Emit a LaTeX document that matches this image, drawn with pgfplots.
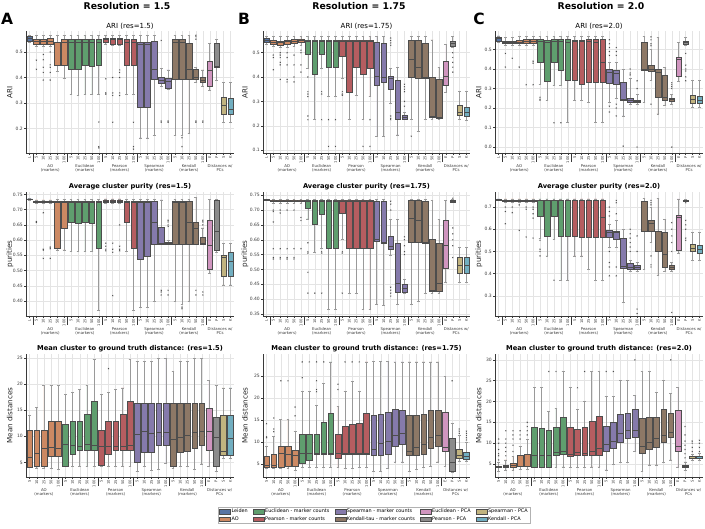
\documentclass[border=0pt]{standalone}
\usepackage{fontspec}
\setmainfont{DejaVu Sans}
\usepackage{pgfplots}
\pgfplotsset{compat=1.18}
\usepgfplotslibrary{statistics}

\definecolor{cL}{HTML}{5875A4}
\definecolor{cAO}{HTML}{CC8963}
\definecolor{cE}{HTML}{5F9E6E}
\definecolor{cP}{HTML}{B55D60}
\definecolor{cS}{HTML}{857AAB}
\definecolor{cK}{HTML}{8D7866}
\definecolor{cEp}{HTML}{D095BF}
\definecolor{cPp}{HTML}{8C8C8C}
\definecolor{cSp}{HTML}{C1B37F}
\definecolor{cKp}{HTML}{71AEC0}
\definecolor{edgec}{HTML}{4D4D4D}
\definecolor{whc}{HTML}{9A9A9A}
\definecolor{axc}{HTML}{3A3A3A}
\definecolor{gridc}{HTML}{E4E4E4}

\pgfplotsset{
 /pgf/number format/assume math mode=true,
 bxs/.style={forget plot, draw=edgec, line width=0.35pt, mark=x, mark size=0.8pt,
   mark options={draw=edgec, line width=0.3pt, solid},
   boxplot/draw direction=y,
   boxplot/box extend=0.8, boxplot/whisker extend=0.4,
   boxplot/every whisker/.style={draw=whc, line width=0.7pt},
   boxplot/every median/.style={draw=edgec, line width=0.6pt}},
 panel/.style={scale only axis, anchor=south west, axis x line*=bottom, axis y line*=left,
   axis line style={line width=0.6pt, draw=axc, -}, tick align=outside, xtick pos=left, ytick pos=left,
   major tick length=2pt, tick style={line width=0.4pt, draw=axc},
   grid=major, major grid style={line width=0.4pt, draw=gridc},
   ticklabel style={font=\fontsize{4.5}{5}\selectfont, text=axc},
   xticklabel style={rotate=90, anchor=east, font=\fontsize{3.7}{4.2}\selectfont, inner sep=1pt},
   yticklabel style={inner sep=1pt},
   every axis title/.style={at={(0.5,1)}, anchor=south, inner sep=1pt, yshift=0.5pt, font=\fontsize{7}{8}\selectfont},
   every axis y label/.style={at={(axis description cs:-0.078,0.5)}, rotate=90, anchor=center, font=\fontsize{7.2}{8}\selectfont, text=black!85},
   clip=false, enlargelimits=false},
 r12/.style={panel, xmin=-0.5, xmax=29.5, xtick={0,...,29},
   xticklabels={L,5,10,25,50,100,5,10,25,50,100,5,10,25,50,100,5,10,25,50,100,5,10,25,50,100,E,P,S,K}},
 r3/.style={panel, xmin=-0.5, xmax=28.5, xtick={0,...,28},
   xticklabels={5,10,25,50,100,5,10,25,50,100,5,10,25,50,100,5,10,25,50,100,5,10,25,50,100,E,P,S,K}},
 f1/.style={yticklabel style={/pgf/number format/fixed, /pgf/number format/fixed zerofill, /pgf/number format/precision=1}},
 f2/.style={yticklabel style={/pgf/number format/fixed, /pgf/number format/fixed zerofill, /pgf/number format/precision=2}},
 bt/.style={every axis title/.append style={font=\fontsize{6.7}{8}\selectfont\bfseries}},
 lgi/.style={legend image code/.code={\draw[draw=edgec,line width=0.3pt] (0pt,-2.2pt) rectangle (11pt,2.2pt);}, fill=#1},
}

\newcommand\bx[7]{\addplot[bxs,fill=#2,boxplot prepared={draw position=#1,lower whisker=#3,lower quartile=#4,median=#5,upper quartile=#6,upper whisker=#7}] coordinates {};}
\newcommand\bxo[8]{\addplot[bxs,fill=#2,boxplot prepared={draw position=#1,lower whisker=#3,lower quartile=#4,median=#5,upper quartile=#6,upper whisker=#7}] table[row sep=\\,y index=0] {d\\#8\\};}
\newcommand\glab[2]{\node[font=\fontsize{3.9}{4.6}\selectfont, align=center, anchor=north, inner sep=0pt, text=axc, yshift=-11pt] at ({axis cs:#1,0}|-{rel axis cs:0,0}) {#2};}
\newcommand\sep[1]{\draw[axc,line width=0.4pt] ({axis cs:#1,0}|-{rel axis cs:0,0}) -- ++(0pt,-9.5pt);}
\newcommand\grpsA{\sep{0.5}\sep{5.5}\sep{10.5}\sep{15.5}\sep{20.5}\sep{25.5}%
 \glab{3}{AO\\(markers)}\glab{8}{Euclidean\\(markers)}\glab{13}{Pearson\\(markers)}\glab{18}{Spearman\\(markers)}\glab{23}{Kendall\\(markers)}\glab{27.5}{Distances w/\\PCs}}
\newcommand\grpsB{\sep{4.5}\sep{9.5}\sep{14.5}\sep{19.5}\sep{24.5}%
 \glab{2}{AO\\(markers)}\glab{7}{Euclidean\\(markers)}\glab{12}{Pearson\\(markers)}\glab{17}{Spearman\\(markers)}\glab{22}{Kendall\\(markers)}\glab{26.5}{Distances w/\\PCs}}

\begin{document}
\begin{tikzpicture}
\path[use as bounding box] (0pt,0pt) rectangle (705pt,529pt);
\node[font=\fontsize{9.3}{11}\selectfont\bfseries] at (127pt,522.5pt) {Resolution = 1.5};
\node[font=\fontsize{9.3}{11}\selectfont\bfseries] at (359pt,522.5pt) {Resolution = 1.75};
\node[font=\fontsize{9.3}{11}\selectfont\bfseries] at (601pt,522.5pt) {Resolution = 2.0};
\node[font=\fontsize{15.5}{16}\selectfont\bfseries] at (7pt,510pt) {A};
\node[font=\fontsize{15.5}{16}\selectfont\bfseries] at (244pt,510pt) {B};
\node[font=\fontsize{15.5}{16}\selectfont\bfseries] at (479pt,510pt) {C};

% ---------------- A1
\begin{axis}[r12, at={(26pt,376pt)}, width=208pt, height=122pt, ymin=0.105, ymax=0.582,
  ytick={0.2,0.3,0.4,0.5}, f1, ylabel={ARI}, title={ARI (res=1.5)}]
\bx{0}{cL}{0.537}{0.542}{0.552}{0.562}{0.565}
\bxo{1}{cAO}{0.523}{0.532}{0.540}{0.549}{0.565}{0.468\\0.432}
\bxo{2}{cAO}{0.52}{0.532}{0.540}{0.549}{0.565}{0.49\\0.47\\0.44\\0.42\\0.39}
\bxo{3}{cAO}{0.52}{0.532}{0.542}{0.552}{0.565}{0.50\\0.45\\0.44\\0.42\\0.39}
\bx{4}{cAO}{0.423}{0.447}{0.536}{0.540}{0.565}
\bx{5}{cAO}{0.396}{0.447}{0.538}{0.549}{0.565}
\bx{6}{cE}{0.333}{0.432}{0.536}{0.549}{0.565}
\bx{7}{cE}{0.33}{0.432}{0.536}{0.549}{0.565}
\bx{8}{cE}{0.333}{0.447}{0.536}{0.549}{0.565}
\bx{9}{cE}{0.333}{0.443}{0.536}{0.549}{0.565}
\bxo{10}{cE}{0.333}{0.447}{0.538}{0.549}{0.565}{0.226\\0.13\\0.125}
\bxo{11}{cP}{0.53}{0.538}{0.548}{0.552}{0.565}{0.395\\0.34\\0.335}
\bxo{12}{cP}{0.525}{0.532}{0.548}{0.552}{0.565}{0.40\\0.34\\0.33\\0.225}
\bxo{13}{cP}{0.525}{0.532}{0.548}{0.552}{0.565}{0.43\\0.42\\0.40\\0.34\\0.33}
\bx{14}{cP}{0.333}{0.447}{0.536}{0.549}{0.565}
\bxo{15}{cP}{0.333}{0.447}{0.536}{0.549}{0.565}{0.225\\0.13\\0.12}
\bx{16}{cS}{0.164}{0.286}{0.529}{0.538}{0.565}
\bx{17}{cS}{0.164}{0.284}{0.529}{0.538}{0.565}
\bx{18}{cS}{0.175}{0.395}{0.434}{0.544}{0.565}
\bxo{19}{cS}{0.365}{0.377}{0.39}{0.40}{0.435}{0.545\\0.23\\0.225}
\bxo{20}{cS}{0.355}{0.36}{0.385}{0.396}{0.43}{0.23\\0.225}
\bx{21}{cK}{0.175}{0.395}{0.536}{0.549}{0.565}
\bxo{22}{cK}{0.175}{0.395}{0.536}{0.549}{0.565}{0.165\\0.13}
\bx{23}{cK}{0.18}{0.395}{0.434}{0.536}{0.565}
\bxo{24}{cK}{0.38}{0.395}{0.40}{0.434}{0.44}{0.565\\0.56\\0.55\\0.23\\0.225}
\bxo{25}{cK}{0.365}{0.38}{0.39}{0.40}{0.43}{0.23\\0.225}
\bx{26}{cEp}{0.35}{0.366}{0.427}{0.463}{0.535}
\bx{27}{cPp}{0.39}{0.44}{0.443}{0.533}{0.55}
\bx{28}{cSp}{0.225}{0.257}{0.29}{0.323}{0.38}
\bx{29}{cKp}{0.225}{0.257}{0.277}{0.32}{0.38}
\grpsA
\end{axis}

% ---------------- A2
\begin{axis}[r12, bt, at={(26pt,213pt)}, width=208pt, height=124pt, ymin=0.351, ymax=0.758,
  ytick={0.40,0.45,0.50,0.55,0.60,0.65,0.70,0.75}, f2, ylabel={purities}, title={Average cluster purity (res=1.5)}]
\bx{0}{cL}{0.732}{0.733}{0.735}{0.736}{0.737}
\bxo{1}{cAO}{0.722}{0.725}{0.727}{0.729}{0.732}{0.661\\0.658}
\bxo{2}{cAO}{0.722}{0.725}{0.727}{0.729}{0.732}{0.69\\0.57\\0.567\\0.54}
\bxo{3}{cAO}{0.722}{0.725}{0.727}{0.729}{0.732}{0.577\\0.572\\0.54}
\bx{4}{cAO}{0.568}{0.575}{0.724}{0.727}{0.733}
\bx{5}{cAO}{0.568}{0.638}{0.724}{0.727}{0.733}
\bx{6}{cE}{0.562}{0.658}{0.724}{0.727}{0.733}
\bx{7}{cE}{0.562}{0.655}{0.724}{0.727}{0.733}
\bx{8}{cE}{0.562}{0.658}{0.724}{0.727}{0.733}
\bx{9}{cE}{0.562}{0.655}{0.724}{0.727}{0.733}
\bx{10}{cE}{0.37}{0.575}{0.724}{0.727}{0.733}
\bxo{11}{cP}{0.72}{0.725}{0.729}{0.732}{0.735}{0.59\\0.58\\0.57\\0.565}
\bxo{12}{cP}{0.72}{0.725}{0.729}{0.732}{0.735}{0.59\\0.57\\0.56\\0.418}
\bxo{13}{cP}{0.72}{0.725}{0.729}{0.732}{0.735}{0.65\\0.58\\0.57\\0.565}
\bx{14}{cP}{0.562}{0.658}{0.724}{0.727}{0.733}
\bx{15}{cP}{0.37}{0.575}{0.724}{0.727}{0.733}
\bx{16}{cS}{0.38}{0.539}{0.724}{0.727}{0.733}
\bx{17}{cS}{0.38}{0.548}{0.724}{0.727}{0.733}
\bx{18}{cS}{0.398}{0.588}{0.657}{0.727}{0.733}
\bxo{19}{cS}{0.588}{0.588}{0.589}{0.644}{0.732}{0.435\\0.43\\0.42}
\bxo{20}{cS}{0.585}{0.587}{0.59}{0.594}{0.6}{0.665\\0.66\\0.65\\0.645\\0.435\\0.42}
\bx{21}{cK}{0.398}{0.588}{0.724}{0.727}{0.733}
\bxo{22}{cK}{0.39}{0.588}{0.724}{0.727}{0.733}{0.38\\0.375}
\bx{23}{cK}{0.398}{0.588}{0.657}{0.727}{0.733}
\bxo{24}{cK}{0.588}{0.588}{0.638}{0.66}{0.74}{0.435\\0.42}
\bxo{25}{cK}{0.588}{0.588}{0.59}{0.611}{0.64}{0.665\\0.66\\0.65\\0.43\\0.42}
\bx{26}{cEp}{0.49}{0.506}{0.582}{0.665}{0.733}
\bx{27}{cPp}{0.56}{0.568}{0.628}{0.73}{0.733}
\bx{28}{cSp}{0.453}{0.483}{0.544}{0.55}{0.59}
\bx{29}{cKp}{0.453}{0.482}{0.53}{0.562}{0.59}
\grpsA
\end{axis}

% ---------------- A3
\begin{axis}[r3, bt, at={(26pt,52pt)}, width=208pt, height=123pt, ymin=2.2, ymax=25.8,
  ytick={5,10,15,20,25}, ylabel={Mean distances}, title={Mean cluster to ground truth distance: (res=1.5)}]
\bx{0}{cAO}{4.1}{4.16}{5.9}{11.1}{14.0}
\bx{1}{cAO}{3.9}{4.2}{6.7}{11.1}{15.5}
\bx{2}{cAO}{3.9}{4.2}{7.7}{11.1}{19.7}
\bx{3}{cAO}{3.8}{6.2}{7.9}{13.0}{19.7}
\bx{4}{cAO}{3.6}{6.2}{7.8}{13.0}{19.7}
\bx{5}{cE}{4.2}{4.35}{8.5}{12.4}{18.0}
\bx{6}{cE}{4.2}{6.55}{8.2}{13.0}{18.5}
\bx{7}{cE}{4.2}{7.25}{8.0}{13.0}{19.0}
\bx{8}{cE}{4.2}{7.25}{8.4}{14.2}{19.7}
\bx{9}{cE}{4.2}{7.25}{8.2}{16.7}{24.7}
\bx{10}{cP}{4.2}{4.5}{8.0}{11.1}{18.0}
\bxo{11}{cP}{4.2}{6.55}{8.0}{13.0}{18.5}{23.0}
\bx{12}{cP}{4.2}{7.25}{8.0}{13.0}{19.0}
\bx{13}{cP}{4.2}{7.25}{8.0}{14.2}{19.3}
\bx{14}{cP}{4.2}{7.25}{8.2}{16.7}{24.7}
\bx{15}{cS}{3.3}{5.1}{10.4}{16.3}{24.4}
\bx{16}{cS}{4.2}{7.0}{10.9}{16.3}{24.4}
\bx{17}{cS}{3.4}{7.0}{10.6}{16.3}{24.4}
\bx{18}{cS}{3.7}{8.35}{10.8}{16.3}{25.0}
\bx{19}{cS}{4.8}{8.35}{10.8}{16.3}{25.0}
\bx{20}{cK}{3.9}{4.35}{9.5}{16.3}{22.4}
\bx{21}{cK}{4.2}{6.9}{9.8}{16.3}{24.4}
\bx{22}{cK}{4.2}{7.1}{10.2}{16.3}{24.4}
\bx{23}{cK}{3.7}{7.8}{10.7}{16.3}{25.0}
\bx{24}{cK}{4.7}{8.3}{10.9}{16.3}{25.0}
\bx{25}{cEp}{4.2}{7.25}{10.9}{15.5}{20.8}
\bx{26}{cPp}{3.3}{4.2}{9.8}{13.7}{19.7}
\bx{27}{cSp}{5.8}{6.4}{7.1}{14.0}{19.3}
\bx{28}{cKp}{5.8}{6.3}{9.6}{14.0}{19.3}
\grpsB
\end{axis}

% ---------------- B1
\begin{axis}[r12, at={(263pt,376pt)}, width=207pt, height=122pt, ymin=0.088, ymax=0.589,
  ytick={0.1,0.2,0.3,0.4,0.5}, f1, ylabel={ARI}, ylabel style={at={(axis description cs:-0.087,0.5)}}, title={ARI (res=1.75)}]
\bx{0}{cL}{0.535}{0.544}{0.552}{0.561}{0.567}
\bxo{1}{cAO}{0.525}{0.534}{0.544}{0.550}{0.567}{0.49\\0.48\\0.43}
\bxo{2}{cAO}{0.52}{0.531}{0.541}{0.548}{0.567}{0.50\\0.49\\0.48\\0.46\\0.45\\0.39}
\bxo{3}{cAO}{0.52}{0.534}{0.545}{0.552}{0.567}{0.50\\0.48\\0.45\\0.39\\0.38}
\bxo{4}{cAO}{0.525}{0.541}{0.548}{0.555}{0.567}{0.49\\0.45\\0.40\\0.38}
\bxo{5}{cAO}{0.53}{0.545}{0.552}{0.557}{0.567}{0.51\\0.50\\0.45\\0.42}
\bxo{6}{cE}{0.435}{0.493}{0.548}{0.552}{0.567}{0.40\\0.34\\0.33\\0.32\\0.24\\0.225}
\bx{7}{cE}{0.225}{0.411}{0.548}{0.552}{0.567}
\bxo{8}{cE}{0.435}{0.493}{0.548}{0.552}{0.567}{0.34\\0.33\\0.225}
\bxo{9}{cE}{0.32}{0.439}{0.548}{0.552}{0.567}{0.225\\0.115}
\bxo{10}{cE}{0.32}{0.439}{0.548}{0.552}{0.567}{0.225\\0.115}
\bxo{11}{cP}{0.395}{0.486}{0.548}{0.552}{0.567}{0.34\\0.33\\0.325}
\bx{12}{cP}{0.225}{0.336}{0.548}{0.552}{0.567}
\bx{13}{cP}{0.325}{0.439}{0.548}{0.552}{0.567}
\bxo{14}{cP}{0.225}{0.411}{0.548}{0.552}{0.567}{0.115}
\bxo{15}{cP}{0.32}{0.435}{0.548}{0.552}{0.567}{0.225\\0.115}
\bx{16}{cS}{0.157}{0.368}{0.402}{0.544}{0.567}
\bx{17}{cS}{0.157}{0.38}{0.40}{0.537}{0.567}
\bxo{18}{cS}{0.29}{0.35}{0.395}{0.405}{0.435}{0.56\\0.55\\0.54\\0.53\\0.24\\0.23\\0.225}
\bx{19}{cS}{0.162}{0.227}{0.255}{0.387}{0.44}
\bxo{20}{cS}{0.225}{0.226}{0.235}{0.245}{0.255}{0.37\\0.36\\0.35\\0.34\\0.30\\0.28}
\bxo{21}{cK}{0.225}{0.40}{0.473}{0.552}{0.567}{0.157}
\bx{22}{cK}{0.175}{0.395}{0.439}{0.552}{0.567}
\bx{23}{cK}{0.225}{0.395}{0.40}{0.541}{0.567}
\bx{24}{cK}{0.225}{0.234}{0.24}{0.40}{0.552}
\bx{25}{cK}{0.225}{0.23}{0.234}{0.39}{0.44}
\bx{26}{cEp}{0.335}{0.368}{0.402}{0.463}{0.535}
\bxo{27}{cPp}{0.52}{0.527}{0.54}{0.548}{0.567}{0.50\\0.48\\0.46\\0.44\\0.42}
\bx{28}{cSp}{0.225}{0.244}{0.254}{0.285}{0.34}
\bx{29}{cKp}{0.22}{0.241}{0.257}{0.278}{0.34}
\grpsA
\end{axis}

% ---------------- B2
\begin{axis}[r12, bt, at={(263pt,213pt)}, width=207pt, height=124pt, ymin=0.343, ymax=0.761,
  ytick={0.35,0.40,0.45,0.50,0.55,0.60,0.65,0.70,0.75}, f2, ylabel={purities}, ylabel style={at={(axis description cs:-0.087,0.5)}}, title={Average cluster purity (res=1.75)}]
\bx{0}{cL}{0.732}{0.733}{0.735}{0.736}{0.737}
\bxo{1}{cAO}{0.722}{0.729}{0.731}{0.734}{0.737}{0.70\\0.695\\0.66\\0.57\\0.54\\0.535}
\bxo{2}{cAO}{0.722}{0.729}{0.731}{0.734}{0.737}{0.70\\0.69\\0.57\\0.54\\0.535}
\bxo{3}{cAO}{0.722}{0.729}{0.731}{0.734}{0.737}{0.70\\0.57\\0.54\\0.535}
\bxo{4}{cAO}{0.722}{0.729}{0.731}{0.734}{0.737}{0.70\\0.57\\0.54\\0.535}
\bxo{5}{cAO}{0.722}{0.729}{0.731}{0.734}{0.737}{0.675\\0.665\\0.57}
\bxo{6}{cE}{0.67}{0.707}{0.731}{0.733}{0.735}{0.59\\0.56\\0.555\\0.49\\0.42}
\bxo{7}{cE}{0.558}{0.652}{0.731}{0.733}{0.735}{0.42}
\bxo{8}{cE}{0.57}{0.685}{0.731}{0.733}{0.735}{0.56\\0.555\\0.42}
\bx{9}{cE}{0.365}{0.57}{0.731}{0.733}{0.735}
\bx{10}{cE}{0.365}{0.57}{0.731}{0.733}{0.735}
\bxo{11}{cP}{0.60}{0.69}{0.731}{0.733}{0.735}{0.56\\0.555\\0.42}
\bx{12}{cP}{0.42}{0.57}{0.731}{0.733}{0.735}
\bx{13}{cP}{0.42}{0.57}{0.731}{0.733}{0.735}
\bx{14}{cP}{0.365}{0.57}{0.731}{0.733}{0.735}
\bx{15}{cP}{0.365}{0.57}{0.731}{0.733}{0.735}
\bx{16}{cS}{0.383}{0.595}{0.602}{0.73}{0.735}
\bx{17}{cS}{0.38}{0.59}{0.592}{0.73}{0.735}
\bxo{18}{cS}{0.548}{0.569}{0.578}{0.612}{0.668}{0.73\\0.72\\0.70\\0.44\\0.43\\0.42\\0.41}
\bx{19}{cS}{0.383}{0.422}{0.454}{0.59}{0.668}
\bxo{20}{cS}{0.42}{0.422}{0.435}{0.45}{0.465}{0.61\\0.60\\0.58\\0.56\\0.55}
\bx{21}{cK}{0.383}{0.592}{0.671}{0.733}{0.735}
\bx{22}{cK}{0.393}{0.592}{0.665}{0.733}{0.735}
\bx{23}{cK}{0.42}{0.590}{0.592}{0.729}{0.735}
\bx{24}{cK}{0.42}{0.428}{0.43}{0.603}{0.733}
\bx{25}{cK}{0.42}{0.425}{0.454}{0.59}{0.668}
\bx{26}{cEp}{0.457}{0.505}{0.58}{0.665}{0.733}
\bxo{27}{cPp}{0.725}{0.728}{0.73}{0.733}{0.735}{0.74\\0.64\\0.62\\0.60\\0.58\\0.54}
\bx{28}{cSp}{0.457}{0.488}{0.513}{0.54}{0.575}
\bx{29}{cKp}{0.457}{0.488}{0.513}{0.54}{0.575}
\grpsA
\end{axis}

% ---------------- B3
\begin{axis}[r3, bt, at={(263pt,52pt)}, width=207pt, height=123pt, ymin=2.05, ymax=30.1,
  ytick={5,10,15,20,25}, ylabel={Mean distances}, ylabel style={at={(axis description cs:-0.087,0.5)}}, title={Mean cluster to ground truth distance: (res=1.75)},
  legend columns=2, transpose legend, legend cell align=left,
  legend style={at={(-0.217,-0.244)}, anchor=north west, font=\fontsize{4.9}{5.4}\selectfont, draw=gray!60, line width=0.4pt,
    inner sep=1.2pt, nodes={inner sep=0.8pt}, /tikz/every even column/.append style={column sep=4.5pt}, row sep=0.3pt}]
\addlegendimage{lgi=cL}\addlegendentry{Leiden}
\addlegendimage{lgi=cAO}\addlegendentry{AO}
\addlegendimage{lgi=cE}\addlegendentry{Euclidean - marker counts}
\addlegendimage{lgi=cP}\addlegendentry{Pearson - marker counts}
\addlegendimage{lgi=cS}\addlegendentry{Spearman - marker counts}
\addlegendimage{lgi=cK}\addlegendentry{Kendall-tau - marker counts}
\addlegendimage{lgi=cEp}\addlegendentry{Euclidean - PCA}
\addlegendimage{lgi=cPp}\addlegendentry{Pearson - PCA}
\addlegendimage{lgi=cSp}\addlegendentry{Spearman - PCA}
\addlegendimage{lgi=cKp}\addlegendentry{Kendall - PCA}
\bxo{0}{cAO}{4.1}{4.3}{4.7}{6.7}{9.0}{11.0\\11.2\\14.2}
\bxo{1}{cAO}{4.1}{4.3}{4.7}{7.2}{11.3}{12.4\\13.0\\15.5}
\bxo{2}{cAO}{4.0}{4.3}{7.35}{9.0}{15.2}{24.0}
\bxo{3}{cAO}{4.0}{4.5}{7.3}{9.0}{15.2}{24.0}
\bxo{4}{cAO}{3.5}{4.6}{7.0}{8.1}{12.5}{16.0\\18.0}
\bxo{5}{cE}{4.2}{5.1}{7.35}{11.8}{21.5}{24.7\\28.3}
\bxo{6}{cE}{4.2}{5.8}{7.35}{11.8}{21.5}{28.3}
\bxo{7}{cE}{4.2}{7.3}{7.35}{11.8}{18.3}{21.5\\22.0\\24.0\\28.3}
\bxo{8}{cE}{4.3}{7.3}{7.35}{14.5}{23.4}{28.3}
\bx{9}{cE}{4.3}{7.3}{7.35}{16.7}{28.3}
\bxo{10}{cP}{4.2}{6.3}{7.35}{11.8}{18.2}{22.0\\23.2}
\bxo{11}{cP}{4.1}{7.3}{7.35}{13.6}{21.5}{28.3}
\bxo{12}{cP}{4.1}{7.3}{7.35}{14.0}{23.8}{28.3}
\bxo{13}{cP}{4.3}{7.3}{7.35}{14.3}{21.5}{28.3}
\bx{14}{cP}{4.3}{7.3}{7.35}{16.7}{28.3}
\bx{15}{cS}{3.3}{7.1}{8.4}{16.2}{28.5}
\bx{16}{cS}{3.3}{7.1}{9.8}{16.3}{28.5}
\bx{17}{cS}{4.0}{7.2}{10.3}{16.9}{28.5}
\bx{18}{cS}{5.5}{9.0}{11.6}{17.5}{28.3}
\bx{19}{cS}{5.5}{9.6}{12.0}{17.4}{28.3}
\bx{20}{cK}{3.3}{7.0}{7.8}{16.2}{28.3}
\bx{21}{cK}{3.8}{7.1}{8.9}{16.2}{28.3}
\bx{22}{cK}{4.2}{7.2}{9.6}{16.4}{28.3}
\bx{23}{cK}{4.5}{8.6}{11.1}{17.3}{28.3}
\bx{24}{cK}{5.5}{9.0}{11.6}{17.4}{28.3}
\bx{25}{cEp}{4.5}{8.0}{8.9}{16.9}{25.0}
\bxo{26}{cPp}{3.2}{3.3}{5.5}{11.0}{14.3}{24.0}
\bxo{27}{cSp}{5.7}{6.3}{7.1}{8.5}{11.5}{12.0\\12.5\\13.0}
\bxo{28}{cKp}{5.7}{6.0}{6.8}{7.8}{10.0}{10.5\\11.0\\11.5\\12.0\\12.5}
\grpsB
\end{axis}

% ---------------- C1
\begin{axis}[r12, at={(495pt,376pt)}, width=208pt, height=122pt, ymin=-0.03, ymax=0.595,
  ytick={0,0.1,0.2,0.3,0.4,0.5}, f1, ylabel={ARI}, title={ARI (res=2.0)}]
\bx{0}{cL}{0.535}{0.543}{0.555}{0.564}{0.57}
\bxo{1}{cAO}{0.52}{0.531}{0.538}{0.543}{0.56}{0.48\\0.41}
\bxo{2}{cAO}{0.52}{0.531}{0.538}{0.543}{0.56}{0.455}
\bxo{3}{cAO}{0.52}{0.531}{0.538}{0.546}{0.565}{0.41}
\bxo{4}{cAO}{0.52}{0.534}{0.543}{0.552}{0.567}{0.32}
\bxo{5}{cAO}{0.52}{0.531}{0.543}{0.555}{0.567}{0.44\\0.43\\0.32}
\bxo{6}{cE}{0.32}{0.434}{0.543}{0.552}{0.567}{0.255\\0.245\\0.24}
\bx{7}{cE}{0.24}{0.336}{0.538}{0.546}{0.567}
\bxo{8}{cE}{0.315}{0.434}{0.543}{0.552}{0.567}{0.125}
\bxo{9}{cE}{0.315}{0.393}{0.543}{0.552}{0.567}{0.125}
\bx{10}{cE}{0.125}{0.345}{0.538}{0.552}{0.567}
\bx{11}{cP}{0.24}{0.341}{0.543}{0.546}{0.567}
\bx{12}{cP}{0.24}{0.324}{0.543}{0.546}{0.567}
\bx{13}{cP}{0.23}{0.331}{0.543}{0.552}{0.567}
\bx{14}{cP}{0.125}{0.331}{0.538}{0.552}{0.567}
\bx{15}{cP}{0.125}{0.331}{0.436}{0.552}{0.567}
\bxo{16}{cS}{0.23}{0.328}{0.383}{0.397}{0.435}{0.55\\0.53\\0.51\\0.49\\0.47\\0.21\\0.18}
\bxo{17}{cS}{0.25}{0.324}{0.379}{0.393}{0.435}{0.51\\0.49\\0.47\\0.22\\0.20\\0.16}
\bxo{18}{cS}{0.16}{0.241}{0.247}{0.333}{0.40}{0.005}
\bxo{19}{cS}{0.22}{0.232}{0.241}{0.25}{0.35}{0.40\\0.38\\0.37}
\bxo{20}{cS}{0.22}{0.23}{0.236}{0.242}{0.27}{0.34\\0.30\\0.0}
\bx{21}{cK}{0.23}{0.393}{0.40}{0.538}{0.565}
\bxo{22}{cK}{0.34}{0.388}{0.40}{0.422}{0.50}{0.565\\0.55\\0.53\\0.52\\0.22}
\bx{23}{cK}{0.17}{0.255}{0.383}{0.397}{0.56}
\bx{24}{cK}{0.215}{0.241}{0.255}{0.37}{0.41}
\bxo{25}{cK}{0.22}{0.236}{0.245}{0.253}{0.27}{0.33\\0.32\\0.31\\0.30\\0.0}
\bx{26}{cEp}{0.335}{0.365}{0.45}{0.46}{0.535}
\bxo{27}{cPp}{0.52}{0.528}{0.538}{0.545}{0.56}{0.48\\0.42\\0.40\\0.39\\0.36\\0.34}
\bx{28}{cSp}{0.205}{0.224}{0.245}{0.266}{0.34}
\bx{29}{cKp}{0.205}{0.224}{0.241}{0.262}{0.34}
\grpsA
\end{axis}

% ---------------- C2
\begin{axis}[r12, bt, at={(495pt,213pt)}, width=208pt, height=124pt, ymin=0.209, ymax=0.768,
  ytick={0.3,0.4,0.5,0.6,0.7}, f1, ylabel={purities}, title={Average cluster purity (res=2.0)}]
\bx{0}{cL}{0.732}{0.733}{0.735}{0.736}{0.737}
\bxo{1}{cAO}{0.72}{0.726}{0.729}{0.732}{0.737}{0.70\\0.68\\0.625}
\bxo{2}{cAO}{0.72}{0.726}{0.729}{0.732}{0.737}{0.70\\0.675}
\bxo{3}{cAO}{0.72}{0.726}{0.729}{0.732}{0.737}{0.71\\0.595}
\bxo{4}{cAO}{0.72}{0.726}{0.729}{0.732}{0.737}{0.70\\0.69\\0.565}
\bxo{5}{cAO}{0.72}{0.725}{0.729}{0.733}{0.737}{0.70\\0.69\\0.67\\0.65\\0.56}
\bxo{6}{cE}{0.56}{0.66}{0.73}{0.732}{0.737}{0.55\\0.51\\0.50\\0.48}
\bx{7}{cE}{0.48}{0.567}{0.73}{0.732}{0.737}
\bxo{8}{cE}{0.555}{0.66}{0.73}{0.732}{0.737}{0.37}
\bx{9}{cE}{0.37}{0.567}{0.73}{0.732}{0.737}
\bx{10}{cE}{0.37}{0.567}{0.73}{0.732}{0.737}
\bx{11}{cP}{0.48}{0.57}{0.73}{0.732}{0.737}
\bx{12}{cP}{0.48}{0.565}{0.73}{0.732}{0.737}
\bx{13}{cP}{0.42}{0.565}{0.73}{0.732}{0.737}
\bx{14}{cP}{0.37}{0.565}{0.73}{0.732}{0.737}
\bx{15}{cP}{0.37}{0.565}{0.655}{0.732}{0.737}
\bxo{16}{cS}{0.52}{0.565}{0.588}{0.597}{0.62}{0.70\\0.68\\0.66\\0.50\\0.45\\0.43\\0.39}
\bxo{17}{cS}{0.52}{0.555}{0.585}{0.59}{0.64}{0.73\\0.72\\0.67\\0.43\\0.39}
\bx{18}{cS}{0.27}{0.425}{0.435}{0.562}{0.60}
\bxo{19}{cS}{0.41}{0.42}{0.43}{0.447}{0.46}{0.60\\0.58\\0.56\\0.54\\0.52\\0.50}
\bxo{20}{cS}{0.41}{0.42}{0.43}{0.44}{0.45}{0.57\\0.50\\0.24\\0.22}
\bx{21}{cK}{0.42}{0.59}{0.591}{0.728}{0.74}
\bxo{22}{cK}{0.54}{0.59}{0.625}{0.64}{0.70}{0.73\\0.72\\0.71\\0.48\\0.44\\0.43}
\bx{23}{cK}{0.39}{0.50}{0.59}{0.592}{0.74}
\bx{24}{cK}{0.41}{0.43}{0.485}{0.587}{0.645}
\bxo{25}{cK}{0.41}{0.42}{0.43}{0.44}{0.45}{0.63\\0.60\\0.57\\0.54\\0.50\\0.225}
\bx{26}{cEp}{0.49}{0.505}{0.655}{0.665}{0.737}
\bxo{27}{cPp}{0.725}{0.727}{0.73}{0.732}{0.735}{0.72\\0.64\\0.62\\0.60\\0.56\\0.55}
\bx{28}{cSp}{0.46}{0.50}{0.515}{0.535}{0.587}
\bx{29}{cKp}{0.46}{0.49}{0.508}{0.53}{0.587}
\grpsA
\end{axis}

% ---------------- C3
\begin{axis}[r3, bt, at={(495pt,52pt)}, width=208pt, height=123pt, ymin=1.9, ymax=31.4,
  ytick={5,10,15,20,25,30}, ylabel={Mean distances}, title={Mean cluster to ground truth distance: (res=2.0)}]
\bxo{0}{cAO}{3.3}{4.2}{4.4}{4.6}{5.4}{6.0\\7.0\\7.5\\8.5\\10.0\\11.0}
\bxo{1}{cAO}{3.5}{4.2}{4.4}{4.8}{6.0}{7.0\\8.0\\9.0\\10.0\\11.0\\13.0}
\bxo{2}{cAO}{3.5}{4.3}{4.8}{5.2}{6.8}{8.0\\9.5\\11.0\\12.0\\13.0}
\bxo{3}{cAO}{3.8}{4.4}{4.5}{7.1}{9.3}{11.0\\12.0\\13.0}
\bxo{4}{cAO}{3.8}{4.4}{4.5}{7.4}{11.0}{12.0\\13.0\\14.0\\15.0}
\bx{5}{cE}{4.1}{4.2}{7.2}{13.9}{23.3}
\bx{6}{cE}{4.1}{4.2}{7.2}{13.5}{23.3}
\bxo{7}{cE}{4.1}{4.2}{7.2}{13.1}{17.7}{27.2}
\bxo{8}{cE}{4.2}{7.2}{7.8}{13.8}{18.3}{27.2}
\bx{9}{cE}{4.3}{7.4}{8.0}{16.3}{27.2}
\bx{10}{cP}{4.2}{7.0}{7.3}{13.8}{23.3}
\bxo{11}{cP}{4.2}{7.2}{7.8}{13.4}{18.1}{23.3}
\bxo{12}{cP}{4.2}{7.2}{7.7}{13.8}{20.0}{27.2}
\bx{13}{cP}{4.3}{7.2}{8.0}{15.3}{27.2}
\bx{14}{cP}{4.3}{7.2}{8.9}{16.4}{27.2}
\bxo{15}{cS}{3.6}{8.2}{9.7}{14.0}{21.2}{27.2}
\bxo{16}{cS}{5.0}{8.9}{10.4}{15.0}{21.2}{27.2}
\bx{17}{cS}{5.3}{10.3}{12.3}{17.0}{25.0}
\bx{18}{cS}{5.3}{11.3}{13.0}{17.2}{25.0}
\bxo{19}{cS}{8.0}{11.5}{13.0}{18.1}{21.5}{30.0}
\bx{20}{cK}{3.2}{7.6}{9.3}{16.1}{27.2}
\bx{21}{cK}{4.8}{8.5}{10.3}{16.2}{27.2}
\bx{22}{cK}{4.8}{9.0}{11.2}{16.2}{22.2}
\bx{23}{cK}{5.3}{10.2}{11.8}{18.1}{25.0}
\bxo{24}{cK}{6.0}{11.5}{12.5}{17.3}{22.0}{30.0}
\bx{25}{cEp}{4.3}{8.1}{9.2}{17.9}{23.3}
\bxo{26}{cPp}{3.5}{4.2}{4.4}{4.8}{5.5}{6.5\\7.5\\8.5\\9.5\\10.5\\12.0\\14.0}
\bxo{27}{cSp}{5.8}{6.3}{6.5}{6.8}{7.3}{8.0\\9.0\\10.0\\10.5}
\bxo{28}{cKp}{5.8}{6.3}{6.5}{6.9}{7.5}{8.0\\9.0\\10.0\\10.7}
\grpsB
\end{axis}
\end{tikzpicture}
\end{document}
